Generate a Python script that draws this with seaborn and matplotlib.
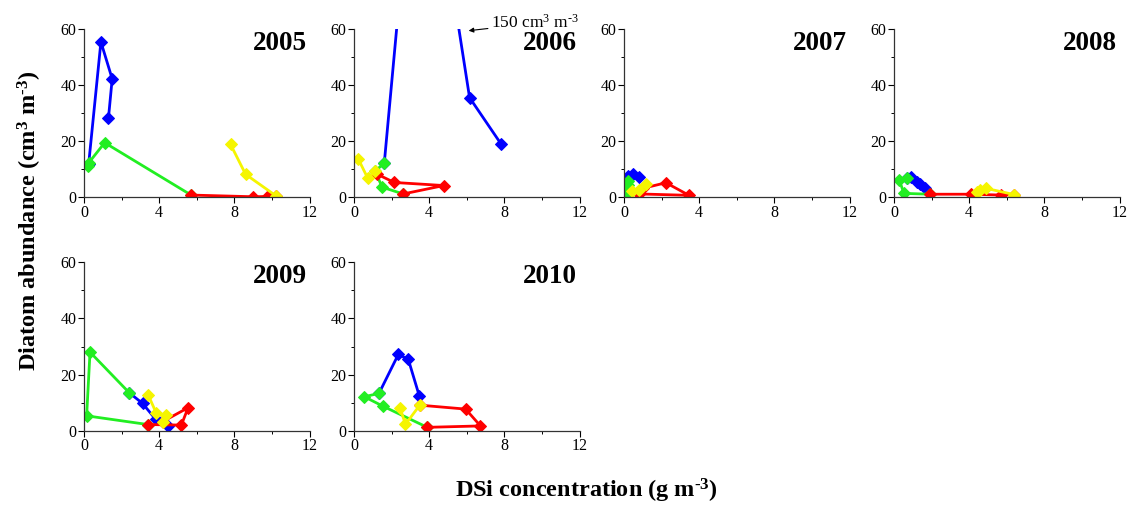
import matplotlib
matplotlib.use("Agg")
import matplotlib.pyplot as plt
import seaborn as sns
from matplotlib.ticker import MultipleLocator

# ---------------- data (DSi g m-3, diatom abundance cm3 m-3) ----------------
years = [2005, 2006, 2007, 2008, 2009, 2010]

blue_x = {2005: [0.25, 0.9, 1.5, 1.3],
          2006: [1.61, 3.5, 6.15, 7.84],
          2007: [0.14, 0.23, 0.46, 0.81],
          2008: [0.7, 0.93, 1.2, 1.4, 1.63],
          2009: [2.41, 3.12, 3.82, 4.48],
          2010: [1.33, 2.36, 2.89, 3.47]}
blue_y = {2005: [12.0, 55.5, 42.3, 28.2],
          2006: [12.1, 150.0, 35.6, 18.9],
          2007: [6.5, 7.6, 8.3, 7.1],
          2008: [6.8, 7.4, 5.6, 4.8, 3.2],
          2009: [13.5, 9.7, 4.0, 1.8],
          2010: [13.3, 27.2, 25.4, 12.5]}

green_x = {2005: [0.2, 0.25, 1.1, 5.7],
           2006: [1.61, 1.12, 1.5, 2.62],
           2007: [0.14, 0.23, 0.2],
           2008: [0.7, 0.28, 0.53, 1.9],
           2009: [2.41, 0.32, 0.14, 3.39],
           2010: [1.33, 0.55, 1.52, 3.9]}
green_y = {2005: [11.2, 12.3, 19.5, 0.8],
           2006: [12.1, 9.4, 3.6, 1.2],
           2007: [1.4, 4.4, 6.0],
           2008: [6.8, 6.2, 1.4, 1.1],
           2009: [13.5, 28.0, 5.3, 2.2],
           2010: [13.3, 12.1, 8.8, 1.2]}

red_x = {2005: [5.7, 9.0, 9.8, 10.2],
         2006: [2.62, 4.78, 2.14, 1.25],
         2007: [1.0, 2.23, 3.46, 0.81],
         2008: [1.9, 4.1, 5.68, 6.38],
         2009: [3.39, 5.18, 5.54, 4.18],
         2010: [3.9, 6.73, 5.94, 3.5]}
red_y = {2005: [0.8, 0.2, 0.3, 0.6],
         2006: [1.2, 4.2, 5.3, 8.2],
         2007: [3.2, 5.2, 0.7, 1.2],
         2008: [1.1, 1.1, 0.8, 1.0],
         2009: [2.2, 2.0, 8.2, 3.2],
         2010: [1.2, 1.7, 7.7, 9.1]}

yellow_x = {2005: [10.2, 8.6, 7.8],
            2006: [0.23, 0.73, 1.12],
            2007: [0.4, 0.8, 1.17],
            2008: [6.38, 4.89, 4.6, 4.4],
            2009: [3.42, 3.85, 4.39, 4.18],
            2010: [3.5, 2.74, 2.44]}
yellow_y = {2005: [0.6, 8.2, 18.9],
            2006: [13.7, 6.8, 9.4],
            2007: [2.4, 2.6, 4.75],
            2008: [1.0, 3.2, 2.6, 1.8],
            2009: [12.7, 6.2, 5.6, 3.2],
            2010: [9.1, 2.3, 8.2]}

x_ticks = [0, 4, 8, 12]
y_ticks = [0, 20, 40, 60]
annot_text = "150 cm$^{3}$ m$^{\u2010 3}$"

# ---------------- style ----------------
sns.set_style("ticks")
plt.rcParams["font.family"] = ["Liberation Serif", "DejaVu Serif"]
plt.rcParams["mathtext.fontset"] = "custom"
plt.rcParams["mathtext.rm"] = "Liberation Serif"
plt.rcParams["mathtext.it"] = "Liberation Serif:italic"
plt.rcParams["mathtext.bf"] = "Liberation Serif:bold"
plt.rcParams["text.color"] = "black"
plt.rcParams["xtick.color"] = "black"
plt.rcParams["ytick.color"] = "black"

series = [(blue_x, blue_y, "#0000FF"),
          (green_x, green_y, "#22EE22"),
          (red_x, red_y, "#FF0000"),
          (yellow_x, yellow_y, "#F5F500")]

fig = plt.figure(figsize=(11.38, 5.12), dpi=100)
W, H = 1138.0, 512.0
lefts = [84, 354, 624, 894]
ax_w = 225.5
rows = [(29.3, 197.3), (262.3, 430.7)]

for i, yr in enumerate(years):
    r, c = divmod(i, 4)
    top, bot = rows[r]
    ax = fig.add_axes([lefts[c] / W, 1 - bot / H, ax_w / W, (bot - top) / H])
    for xs, ys, col in series:
        if yr in xs:
            sns.lineplot(x=xs[yr], y=ys[yr], sort=False, estimator=None,
                         color=col, marker="D", markersize=6.3,
                         markeredgecolor=col, linewidth=2.0, ax=ax)
    ax.set_xlim(0, 12)
    ax.set_ylim(0, 60)
    ax.set_xticks(x_ticks)
    ax.set_yticks(y_ticks)
    ax.xaxis.set_minor_locator(MultipleLocator(2))
    ax.yaxis.set_minor_locator(MultipleLocator(10))
    ax.tick_params(which="major", direction="out", length=4, width=0.8,
                   labelsize=11.5, colors="black", pad=1.5)
    ax.tick_params(which="minor", direction="out", length=2.2, width=0.7,
                   colors="black")
    for s in ("top", "right"):
        ax.spines[s].set_visible(False)
    for s in ("left", "bottom"):
        ax.spines[s].set_color("#333333")
        ax.spines[s].set_linewidth(0.9)
    ax.set_xlabel("")
    ax.set_ylabel("")
    ax.text(0.99, 0.915, str(yr), transform=ax.transAxes, ha="right",
            va="center", fontsize=19.5, fontweight="bold", color="black")
    if yr == 2006:
        ax.annotate(annot_text, xy=(6.1, 59.5), xytext=(7.3, 62.2),
                    textcoords="data", fontsize=12.5, va="center",
                    ha="left", annotation_clip=False,
                    arrowprops=dict(arrowstyle="-|>", color="black",
                                    lw=0.8, mutation_scale=7,
                                    shrinkA=0, shrinkB=0))

fig.text(30 / W, 1 - 221 / H,
         "Diatom abundance (cm$^{\\mathbf{3}}$ m$^{\\mathbf{\u2010 3}}$)",
         rotation=90, ha="center", va="center", fontsize=17.5,
         fontweight="bold")
fig.text(586 / W, 1 - 491 / H,
         "DSi concentration (g m$^{\\mathbf{\u2010 3}}$)",
         ha="center", va="center", fontsize=17.5, fontweight="bold")

fig.savefig("out.png", dpi=100)
